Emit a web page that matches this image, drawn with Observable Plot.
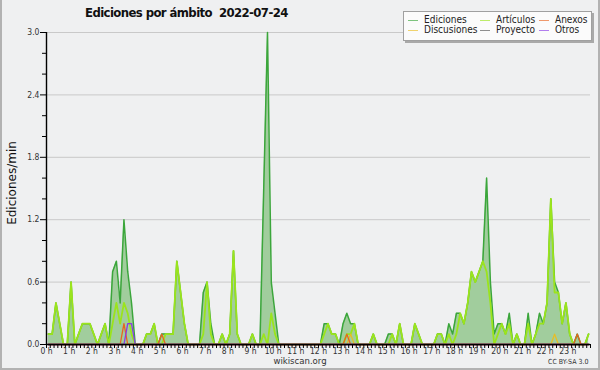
<!DOCTYPE html>
<html>
<head>
<meta charset="utf-8">
<script src="https://cdn.jsdelivr.net/npm/d3@7"></script>
<script src="https://cdn.jsdelivr.net/npm/@observablehq/plot@0.6"></script>
<style>
  body { margin: 0; background: #efefef; }
  #wrap { position: relative; width: 600px; height: 370px; background: #eff0f1; overflow: hidden;
          font-family: "DejaVu Sans Condensed", "DejaVu Sans", sans-serif; color: #222; }
  #frame { position: absolute; left: 0; top: 0; width: 600px; height: 370px; box-sizing: border-box;
           border-left: 2px solid #b2b2b2; border-right: 2px solid #b2b2b2; border-bottom: 2px solid #b2b2b2; pointer-events: none; }
  #chart { position: absolute; left: 0; top: 0; }
  #title { position: absolute; left: 85px; top: 5px; font-weight: bold; font-size: 13px; letter-spacing: -0.6px; white-space: pre; color: #111; line-height: 15px; }
  #ylab { position: absolute; left: 12px; top: 183px; transform: translate(-50%, -50%) rotate(-90deg);
          font-family: "DejaVu Sans", sans-serif; font-size: 12px; white-space: nowrap; color: #111; }
  #legend { position: absolute; left: 403px; top: 11px; width: 187px; height: 28px; background: #fbfbfb;
            border: 1px solid #a0a0a0; box-shadow: 2px 2px 0 #a9a9a9; }
  .li { position: absolute; font-size: 10px; line-height: 10px; white-space: nowrap; color: #222; }
  .sw { position: absolute; height: 0; width: 10px; border-top: 1px solid; opacity: 0.65; }
  #site { position: absolute; left: 300px; top: 355px; transform: translateX(-50%); font-size: 9.5px; color: #333; }
  #lic { position: absolute; left: 548px; top: 358px; font-size: 7px; color: #333; white-space: nowrap; }
</style>
</head>
<body>
<div id="wrap">
  <div id="chart"></div>
  <div id="title"></div>
  <div id="ylab"></div>
  <div id="legend"></div>
  <div id="site"></div>
  <div id="lic"></div>
  <div id="frame"></div>
</div>
<script>
// ---- texts ----
const titleText = "Ediciones por ámbito  2022-07-24";
const yLabel = "Ediciones/min";
const siteText = "wikiscan.org";
const licText = "CC BY-SA 3.0";

// ---- categories / tick labels ----
const hourLabels = ["0 h","1 h","2 h","3 h","4 h","5 h","6 h","7 h","8 h","9 h","10 h","11 h",
                    "12 h","13 h","14 h","15 h","16 h","17 h","18 h","19 h","20 h","21 h","22 h","23 h"];
const yMajorTicks = [0, 0.6, 1.2, 1.8, 2.4, 3.0];
const yMinorTicks = [0.2, 0.4, 0.8, 1.0, 1.4, 1.6, 2.0, 2.2, 2.6, 2.8];

const seriesNames = ["Ediciones", "Artículos", "Anexos", "Discusiones", "Proyecto", "Otros"];
const seriesColors = ["#3ba63b", "#9be41c", "#e8641e", "#e9bd22", "#555555", "#8a3be6"];

// ---- values: edits per minute, one value per 10-minute slot (144 slots) ----
const ediciones = [
  0.1,0.1,0.4,0.2,0,0,0.6,0,0.1,0.2,0.2,0.2,
  0.1,0,0.1,0.2,0,0.7,0.8,0.4,1.2,0.7,0.4,0,
  0,0,0.1,0.1,0.2,0,0.1,0.1,0.1,0.1,0.8,0.5,
  0.2,0,0,0,0,0.5,0.6,0.2,0,0,0.1,0,
  0.1,0.9,0.1,0,0,0,0.1,0,0,1.5,3.0,0.6,
  0.3,0,0,0,0,0,0,0,0,0,0,0,
  0,0.2,0.2,0.1,0.1,0,0.2,0.3,0.2,0.2,0,0,
  0,0,0.1,0,0,0,0.1,0.1,0,0.2,0,0,
  0,0.2,0.1,0,0,0,0,0.1,0.1,0,0.2,0.1,
  0.3,0.3,0.2,0.4,0.7,0.6,0.7,0.8,1.6,0.6,0.1,0.2,
  0.2,0.1,0.3,0,0.1,0,0,0.3,0,0.1,0.3,0.2,
  0.4,1.4,0.6,0.5,0.2,0.4,0.1,0,0.1,0,0,0.1
];
const articulos = [
  0.1,0.1,0.4,0.2,0,0,0.6,0,0.1,0.2,0.2,0.2,
  0.1,0,0.1,0.2,0,0.2,0.4,0.2,0.4,0.3,0.1,0,
  0,0,0.1,0.1,0.2,0,0,0.1,0.1,0.1,0.8,0.5,
  0.2,0,0,0,0,0.1,0.6,0.1,0,0,0.1,0,
  0.1,0.9,0.1,0,0,0,0.1,0,0,0.1,0,0.3,
  0.1,0,0,0,0,0,0,0,0,0,0,0,
  0,0.1,0.2,0.1,0.1,0,0,0.1,0.1,0.2,0,0,
  0,0,0.1,0,0,0,0,0.1,0,0.2,0,0,
  0,0.2,0.1,0,0,0,0,0.1,0.1,0,0.1,0,
  0.1,0.3,0.2,0.4,0.7,0.6,0.7,0.8,0.7,0.4,0,0.1,
  0.2,0.1,0.2,0,0.1,0,0,0.2,0,0.1,0.2,0.2,
  0.4,1.4,0.5,0.5,0.2,0.4,0.1,0,0,0,0,0.1
];
const anexos = [
  0,0,0,0,0,0,0,0,0,0,0,0,
  0,0,0,0,0,0,0,0,0.2,0,0,0,
  0,0,0,0,0,0,0.1,0,0,0,0,0,
  0,0,0,0,0,0,0,0,0,0,0,0,
  0,0,0,0,0,0,0,0,0,0,0,0,
  0,0,0,0,0,0,0,0,0,0,0,0,
  0,0,0,0,0,0,0,0.1,0,0,0,0,
  0,0,0,0,0,0,0,0,0,0,0,0,
  0,0,0,0,0,0,0,0,0,0,0,0,
  0,0,0,0,0,0,0,0,0,0,0,0,
  0,0,0,0,0,0,0,0,0,0,0,0,
  0,0,0,0,0,0,0,0,0.1,0,0,0
];
const discusiones = [
  0,0,0,0,0,0,0,0,0,0,0,0,
  0,0,0,0,0,0,0,0,0,0,0,0,
  0,0,0,0,0,0,0,0,0,0,0,0,
  0,0,0,0,0,0,0,0,0,0,0,0,
  0,0,0,0,0,0,0,0,0,0,0,0,
  0,0,0,0,0,0,0,0,0,0,0,0,
  0,0,0,0,0,0,0,0,0.1,0,0,0,
  0,0,0,0,0,0,0,0,0,0,0,0,
  0,0,0,0,0,0,0,0,0,0,0,0,
  0,0,0,0,0,0,0,0,0,0,0,0,
  0,0,0,0,0,0,0,0,0,0,0,0,
  0,0,0.1,0,0,0,0,0,0,0,0,0
];
const proyecto = [
  0,0,0,0,0,0,0,0,0,0,0,0,
  0,0,0,0,0,0,0,0,0,0,0,0,
  0,0,0,0,0,0,0,0,0,0,0,0,
  0,0,0,0,0,0,0,0,0,0,0,0,
  0,0,0,0,0,0,0,0,0,0,0,0,
  0,0,0,0,0,0,0,0,0,0,0,0,
  0,0,0,0,0,0,0,0,0,0,0,0,
  0,0,0,0,0,0,0,0,0,0,0,0,
  0,0,0,0,0,0,0,0,0,0,0,0,
  0,0,0,0,0,0,0,0,0,0,0,0,
  0,0,0,0,0,0,0,0,0,0,0,0,
  0,0,0,0,0,0,0,0,0,0,0,0
];
const otros = [
  0,0,0,0,0,0,0,0,0,0,0,0,
  0,0,0,0,0,0,0,0,0,0.2,0.2,0,
  0,0,0,0,0,0,0,0,0,0,0,0,
  0,0,0,0,0,0,0,0,0,0,0,0,
  0,0,0,0,0,0,0,0,0,0,0,0,
  0,0,0,0,0,0,0,0,0,0,0,0,
  0,0,0,0,0,0,0,0,0,0,0,0,
  0,0,0,0,0,0,0,0,0,0,0,0,
  0,0,0,0,0,0,0,0,0,0,0,0,
  0,0,0,0,0,0,0,0,0,0,0,0,
  0,0,0,0,0,0,0,0,0,0,0,0,
  0,0,0,0,0,0,0,0,0,0,0,0
];

// ---- build table ----
const slotMinutes = 10;
const rows = ediciones.map((v, i) => ({
  t: i * slotMinutes + slotMinutes / 2,
  ed: v, art: articulos[i], anex: anexos[i], disc: discusiones[i], proj: proyecto[i], otros: otros[i]
}));
const hourTicks = hourLabels.map((_, h) => h * 60);
const minorXTicks = d3.range(0, 1441, slotMinutes);

const chart = Plot.plot({
  width: 600,
  height: 370,
  marginLeft: 46,
  marginRight: 10,
  marginTop: 32,
  marginBottom: 26,
  x: { domain: [0, 1440] },
  y: { domain: [0, 3] },
  style: { background: "transparent", fontFamily: "DejaVu Sans Condensed, DejaVu Sans, sans-serif", fontSize: "8.5px", color: "#000", overflow: "visible" },
  marks: [
    Plot.gridY(yMajorTicks.filter(d => d > 0), { stroke: "#c9c9c9", strokeOpacity: 1 }),
    Plot.areaY(rows, { x: "t", y: "ed", fill: "#a1cd9d", fillOpacity: 1 }),
    Plot.lineY(rows, { x: "t", y: "ed", stroke: seriesColors[0], strokeWidth: 1.5 }),
    Plot.lineY(rows, { x: "t", y: "art", stroke: seriesColors[1], strokeWidth: 1.8 }),
    Plot.lineY(rows, { x: "t", y: "disc", stroke: seriesColors[3], strokeWidth: 1.3 }),
    Plot.lineY(rows, { x: "t", y: "proj", stroke: seriesColors[4], strokeWidth: 1.3 }),
    Plot.lineY(rows, { x: "t", y: "anex", stroke: seriesColors[2], strokeWidth: 1.3 }),
    Plot.lineY(rows, { x: "t", y: "otros", stroke: seriesColors[5], strokeWidth: 1.3 }),
    Plot.axisY(yMinorTicks, { tickSize: 4, tickFormat: () => "", label: null, stroke: "#000" }),
    Plot.axisY(yMajorTicks, { tickSize: 6, tickPadding: 1, tickFormat: d3.format(".1f"), label: null, stroke: "#000", fill: "#333" }),
    Plot.axisX(minorXTicks, { tickSize: 4, tickFormat: () => "", label: null, stroke: "#000" }),
    Plot.axisX(hourTicks, { tickSize: 0, tickPadding: 3, tickFormat: d => hourLabels[Math.round(d / 60)], label: null, fill: "#333" }),
    Plot.ruleY([0], { stroke: "#000", strokeWidth: 1.6 }),
    Plot.ruleX([0], { stroke: "#000", strokeWidth: 1.4 })
  ]
});
document.getElementById("chart").appendChild(chart);

// ---- texts ----
document.getElementById("title").textContent = titleText;
document.getElementById("ylab").textContent = yLabel;
document.getElementById("site").textContent = siteText;
document.getElementById("lic").textContent = licText;

// ---- legend (3 columns x 2 rows) ----
const legend = document.getElementById("legend");
const legendOrder = [0, 1, 2, 3, 4, 5];
const colX = [4, 76, 135];
const rowY = [7, 17];
legendOrder.forEach((k, j) => {
  const c = j % 3, r = Math.floor(j / 3);
  const sw = document.createElement("div");
  sw.className = "sw";
  sw.style.left = colX[c] + "px";
  sw.style.top = (rowY[r] + 1) + "px";
  sw.style.borderTopColor = seriesColors[k];
  legend.appendChild(sw);
  const tx = document.createElement("div");
  tx.className = "li";
  tx.style.left = (colX[c] + 16) + "px";
  tx.style.top = (rowY[r] - 4) + "px";
  tx.textContent = seriesNames[k];
  legend.appendChild(tx);
});
</script>
</body>
</html>
